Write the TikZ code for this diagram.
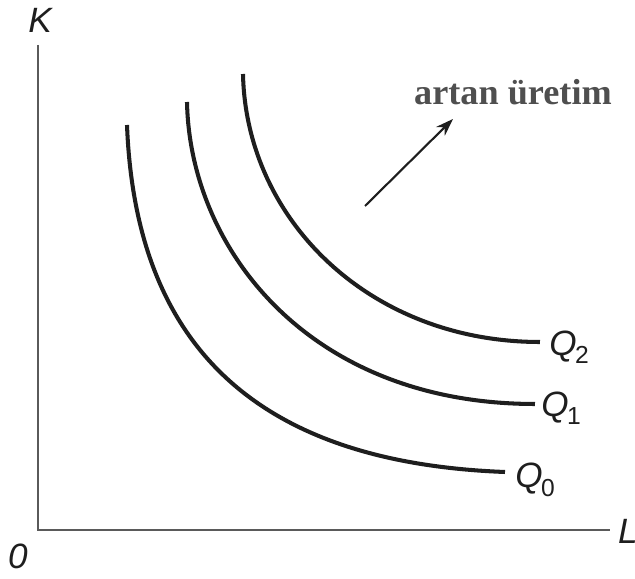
\documentclass[tikz,border=0pt]{standalone}
\usepackage{fontspec}
\setmainfont{Liberation Serif}
\setsansfont{Liberation Sans}
\usepackage{xcolor}
\usetikzlibrary{positioning,calc}
\usetikzlibrary{arrows.meta}

\definecolor{axisgray}{HTML}{5A5A5A}
\definecolor{inkdark}{HTML}{1E1E1E}
\definecolor{textgray}{HTML}{4F4F4F}

\tikzset{
    axisline/.style={line width=0.6pt,axisgray},
    isoquant/.style={line width=1.15pt,inkdark},
    axislabel/.style={font=\sffamily\itshape\fontsize{10}{12}\selectfont,inkdark},
    qlabel/.style={font=\sffamily\fontsize{10}{12}\selectfont,inkdark,anchor=west}
}
\newcommand{\qsub}[1]{{\itshape Q}\kern-0.5pt\raisebox{-0.45ex}{\fontsize{7}{8}\selectfont #1}}

\begin{document}
\begin{tikzpicture}[x=0.01cm,y=-0.01cm]
    \useasboundingbox (0,0) rectangle (635,579);
    % eksenler
        \coordinate (origin) at (38,530);
        \coordinate (ktop) at (38,45);
        \coordinate (lend) at (610,530);
        \draw[axisline] (ktop)--(origin)--(lend);
        \node[axislabel] (klab) at (40,20) {K};
        \node[axislabel] (llab) at (628,531) {L};
        \node[axislabel] (olab) at (18,556) {0};
    % es-urun egrileri
        \draw[isoquant] (127,125) .. controls (135,330) and (240,462) .. (505,472);
        \draw[isoquant] (187,102) .. controls (190,250) and (310,404) .. (535,404);
        \draw[isoquant] (243,74) .. controls (246,220) and (370,342) .. (540,342);
    % etiketler
        \node[qlabel] (q0) at (503,480) {\qsub{0}};
        \node[qlabel] (q1) at (529,408) {\qsub{1}};
        \node[qlabel] (q2) at (537,347) {\qsub{2}};
    % ok
        \coordinate (arrowstart) at (365,206);
        \coordinate (arrowend) at (453,119);
        \draw[line width=0.6pt,inkdark,-{Stealth[length=5pt,width=3.5pt]}] (arrowstart)--(arrowend);
        \node[font=\bfseries\fontsize{10.3}{12}\selectfont,textgray] (artis) at (513,92) {artan üretim};
\end{tikzpicture}
\end{document}
